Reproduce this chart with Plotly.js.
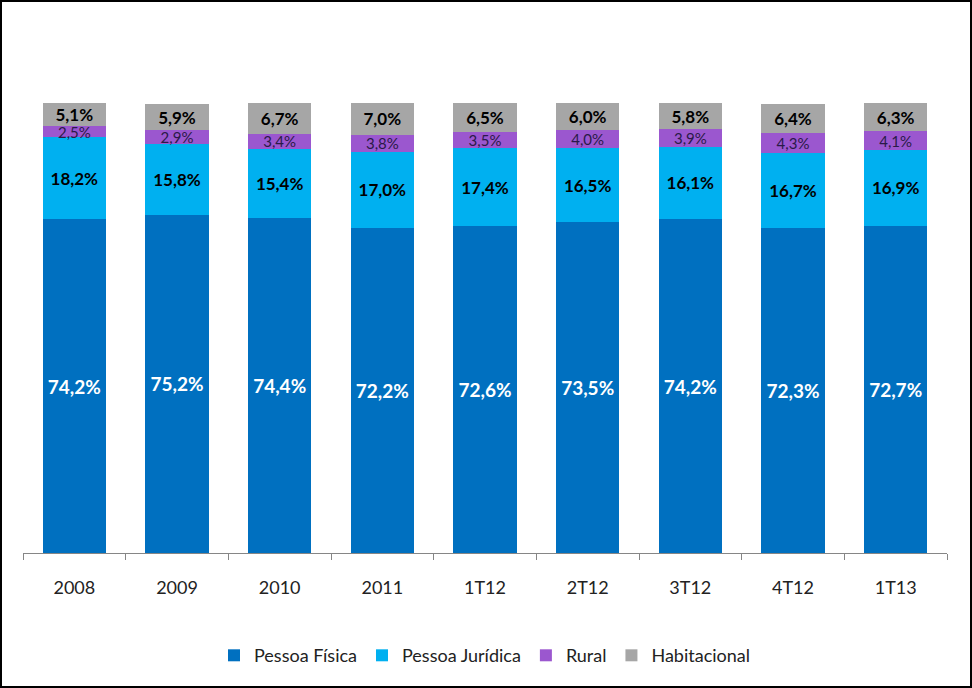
<!DOCTYPE html>
<html>
<head>
<meta charset="utf-8">
<script src="https://cdn.plot.ly/plotly-3.0.1.min.js"></script>
<style>
html,body{margin:0;padding:0;background:#fff;}
#wrap{position:relative;width:972px;height:688px;}
#chart{width:972px;height:688px;}
#frame{position:absolute;left:0;top:0;width:972px;height:688px;box-sizing:border-box;border:2px solid #000;pointer-events:none;}
</style>
</head>
<body>
<div id="wrap"><div id="chart"></div><div id="frame"></div></div>
<script>
const categories = ['2008','2009','2010','2011','1T12','2T12','3T12','4T12','1T13'];
const pessoaFisica   = [74.2, 75.2, 74.4, 72.2, 72.6, 73.5, 74.2, 72.3, 72.7];
const pessoaJuridica = [18.2, 15.8, 15.4, 17.0, 17.4, 16.5, 16.1, 16.7, 16.9];
const rural          = [2.5, 2.9, 3.4, 3.8, 3.5, 4.0, 3.9, 4.3, 4.1];
const habitacional   = [5.1, 5.9, 6.7, 7.0, 6.5, 6.0, 5.8, 6.4, 6.3];

const FONT = 'Lato, "Open Sans", sans-serif';
const fmt = v => v.toFixed(1).replace('.', ',') + '%';

function mk(name, vals, color, tcolor, bold, size) {
  return {
    type: 'bar', name: name, x: categories, y: vals,
    marker: {color: color},
    text: vals.map(v => bold ? '<b>' + fmt(v) + '</b>' : fmt(v)),
    textposition: 'inside', insidetextanchor: 'middle',
    textangle: 0, constraintext: 'none',
    textfont: {family: FONT, size: size, color: tcolor},
    hoverinfo: 'none'
  };
}

const data = [
  mk('Pessoa Física', pessoaFisica, '#0070C0', '#ffffff', true, 19),
  mk('Pessoa Jurídica', pessoaJuridica, '#00B0F0', '#000000', true, 17),
  mk('Rural', rural, '#9B57CF', '#2a1a48', false, 15),
  mk('Habitacional', habitacional, '#A6A6A6', '#000000', true, 17)
];

const layout = {
  width: 972, height: 688,
  margin: {l: 23, r: 25, t: 103, b: 135},
  paper_bgcolor: '#ffffff', plot_bgcolor: '#ffffff',
  barmode: 'stack', bargap: 0.38,
  showlegend: true,
  legend: {orientation: 'h', x: 0.5, xanchor: 'center', y: -0.228, yanchor: 'middle',
           font: {family: FONT, size: 18, color: '#222222'}, traceorder: 'normal'},
  xaxis: {
    type: 'category', range: [-0.5, 8.5],
    showline: true, linecolor: '#868686', linewidth: 1,
    ticks: 'outside', tickson: 'boundaries', ticklen: 6, tickcolor: '#868686',
    ticklabelstandoff: 18,
    tickfont: {family: FONT, size: 18, color: '#222222'},
    showgrid: false, zeroline: false
  },
  yaxis: {range: [0, 100], visible: false, showgrid: false, zeroline: false},
  font: {family: FONT}
};

Plotly.newPlot('chart', data, layout, {displayModeBar: false, staticPlot: true});
</script>
</body>
</html>
